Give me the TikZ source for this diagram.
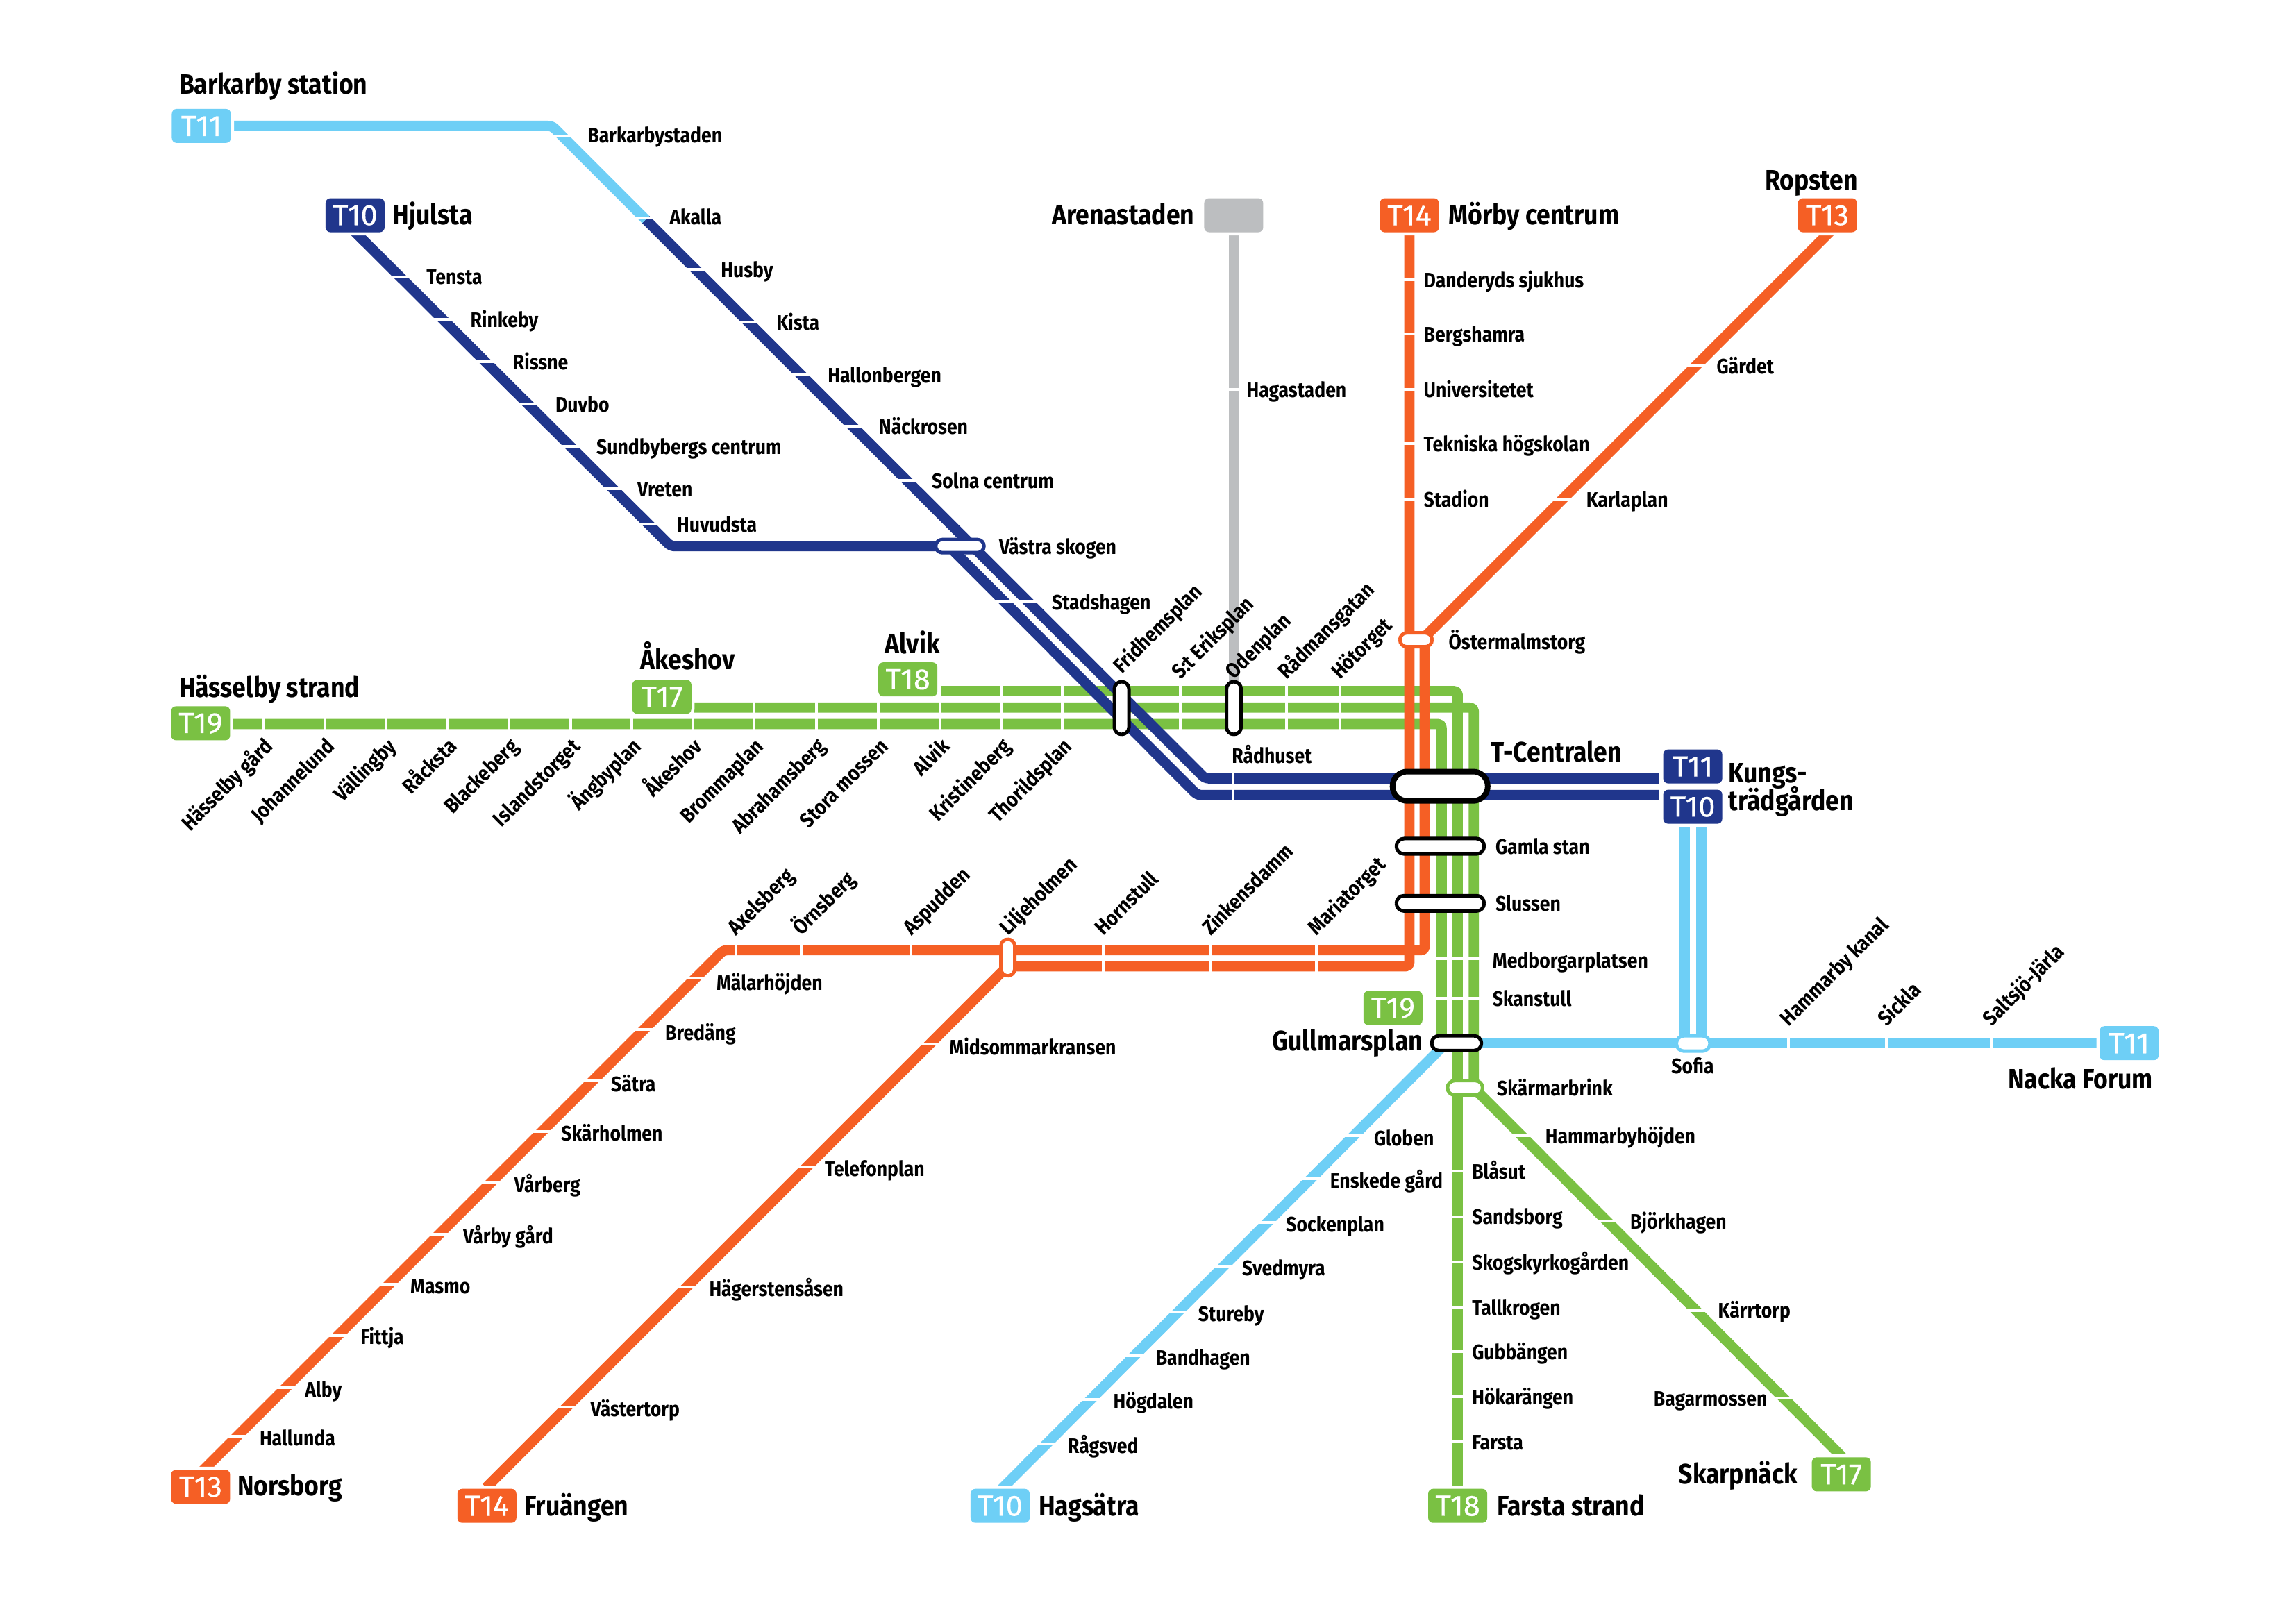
\documentclass[tikz,border=0pt]{standalone}
\usepackage{fontspec}
\setmainfont[FakeStretch=0.88]{Fira Sans}
\definecolor{lb}{RGB}{110,207,246}
\definecolor{db}{RGB}{32,54,140}
\definecolor{og}{RGB}{245,95,37}
\definecolor{gn}{RGB}{122,193,67}
\definecolor{gy}{RGB}{188,190,192}
\tikzset{
 ln/.style={line width=0.148cm,line join=round,rounded corners=1.5pt},
 tck/.style={white,line width=0.04cm},
 stn/.style={anchor=west,inner sep=0pt,yshift=0.008cm,text height=.69em,text depth=0pt,font=\fontsize{8.6}{9}\selectfont\bfseries},
 up/.style={stn,rotate=45},
 dn/.style={stn,rotate=45,anchor=east},
 big/.style={anchor=west,inner sep=0pt,yshift=-0.015cm,text height=.69em,text depth=0pt,font=\fontsize{11.5}{12}\selectfont\bfseries},
 badge/.style={rounded corners=2pt,fill=#1,minimum width=0.85cm,minimum height=0.49cm,inner sep=0pt,text=white,
   font=\fontsize{12}{12}\selectfont\addfontfeature{FakeStretch=1.03,FakeBold=0.4},
   preaction={draw=white,line width=0.09cm}},
}
\newcommand{\pl}[6]{% name, cx, cy, w, h, colour
 \pgfmathsetmacro{\rr}{min(#4,#5)/2}
 \draw[draw=#6,fill=white,line width=0.05cm,rounded corners=\rr*0.211mm]
   ({#2-#4/2},{#3-#5/2}) rectangle ({#2+#4/2},{#3+#5/2});
 \coordinate (#1) at (#2,#3);
}
\begin{document}
\begin{tikzpicture}[x=0.0210906cm,y=-0.0210906cm]
\useasboundingbox (0,0) rectangle (1568,1108.5);
\fill[white] (0,0) rectangle (1568,1108.5);

% grey
\draw[ln,gy] (842.5,147) -- (842.5,480);
\draw[tck] (830,266) -- (855,266);

% green
\draw[ln,gn] (620,472) -- (995.5,472) -- (995.5,1028);
\draw[ln,gn] (452,483.3) -- (1006.5,483.3) -- (1006.5,743) -- (1258,995);
\draw[ln,gn] (137,494.5) -- (984.5,494.5) -- (984.5,712);
\foreach \x in {179.8,222,263.8,305.6,347.6,389.7,431.5,473,515,557.5,600,642,684,725.6,806,878.6,915}
  \draw[tck] (\x,460) -- (\x,505);
\foreach \y in {655,681.7}
  \draw[tck] (975,\y) -- (1015,\y);
\foreach \y in {800,831,862,893,923,954,985}
  \draw[tck] (985,\y) -- (1005,\y);
\foreach \y in {775.5,834,895,955}{
  \pgfmathsetmacro{\xx}{\y+263}
  \draw[tck] (\xx-13,\y) -- (\xx+13,\y);}

% orange
\draw[ln,og] (962.5,147) -- (962.5,660) -- (688,660) -- (332,1016);
\draw[ln,og] (1250,158) -- (973,435) -- (973,649) -- (494,649) -- (137,1006);
\foreach \x in {753.5,826.6,899}
  \draw[tck] (\x,640) -- (\x,670);
\foreach \x in {502.6,547,622.3}
  \draw[tck] (\x,640) -- (\x,658);
\foreach \y in {191,228,266,303,341}
  \draw[tck] (950,\y) -- (975,\y);
\foreach \y in {250,341}{
  \pgfmathsetmacro{\xx}{1408-\y}
  \draw[tck] (\xx-13,\y) -- (\xx+13,\y);}
\foreach \y in {668,703,738,773,808,843,877,912,948,981}{
  \pgfmathsetmacro{\xx}{1143-\y}
  \draw[tck] (\xx-13,\y) -- (\xx+13,\y);}
\foreach \y in {713,797,879,961}{
  \pgfmathsetmacro{\xx}{1348-\y}
  \draw[tck] (\xx-13,\y) -- (\xx+13,\y);}

% dark blue
\draw[ln,db] (242,158) -- (458,373) -- (648,373) -- (817.7,543) -- (1140,543);
\draw[ln,db] (441,150) -- (823,531.7) -- (1140,531.7);
\draw[ln,lb] (150,86) -- (377,86) -- (441,150);
\draw[tck] (842,525) -- (842,550);
\draw[tck] (1134,525) -- (1134,550);
\foreach \y in {189,218,247,276,305,334,358}{
  \pgfmathsetmacro{\xx}{\y+85}
  \draw[tck] (\xx-13,\y) -- (\xx+13,\y);}
\foreach \y in {93,149,184,220,256,291,328}{
  \pgfmathsetmacro{\xx}{\y+291}
  \draw[tck] (\xx-13,\y) -- (\xx+13,\y);}
\draw[tck] (670,411) -- (716,411);

% light blue
\draw[ln,lb] (1150.6,560) -- (1150.6,712);
\draw[ln,lb] (1162,560) -- (1162,712);
\draw[ln,lb] (1000,712.5) -- (1440,712.5);
\draw[ln,lb] (990,710) -- (683,1018);
\foreach \x in {1221.5,1288,1360,1434}
  \draw[tck] (\x,700) -- (\x,725);
\foreach \y in {775.5,805,835,865,896,926,956,986}{
  \pgfmathsetmacro{\xx}{1699-\y}
  \draw[tck] (\xx-13,\y) -- (\xx+13,\y);}

% interchanges
\draw[black,line width=0.08cm,rounded corners=2.1mm,fill=white] (951,527) rectangle (1016,547);
\pl{pga}{983.6}{578}{60}{10.5}{black}
\pl{psl}{983.6}{617}{60}{10.5}{black}
\pl{pgu}{994.7}{712.5}{34}{10}{black}
\pl{pfr}{766}{483.6}{10}{36}{black}
\pl{pod}{842.6}{483.6}{10}{36}{black}
\pl{pvs}{655.5}{373}{33}{9}{db}
\pl{pos}{967}{437}{22}{9.5}{og}
\pl{pli}{688.3}{654}{9.5}{25}{og}
\pl{pso}{1156.3}{712.7}{23}{10.5}{lb}
\pl{psk}{1000.5}{743}{24}{9.8}{gn}

% badges
\node[badge=lb] (bA) at (137.5,86) {T11};
\node[badge=db] (bB) at (242.5,147) {T10};
\node[badge=gy] (bC) at (842.5,147) {};
\node[badge=og] (bD) at (962.5,147) {T14};
\node[badge=og] (bE) at (1248,147) {T13};
\node[badge=gn] (bF) at (137,494) {T19};
\node[badge=gn] (bG) at (452,476) {T17};
\node[badge=gn] (bH) at (620,464) {T18};
\node[badge=db] (bI) at (1156,523.5) {T11};
\node[badge=db] (bJ) at (1156,551) {T10};
\node[badge=gn] (bK) at (951.3,688.5) {T19};
\node[badge=lb] (bL) at (1454,712.5) {T11};
\node[badge=og] (bM) at (137,1015.5) {T13};
\node[badge=og] (bN) at (332.5,1028.5) {T14};
\node[badge=lb] (bO) at (683,1028.5) {T10};
\node[badge=gn] (bP) at (995.5,1028.5) {T18};
\node[badge=gn] (bQ) at (1257.5,1007) {T17};

% terminus labels
\node[big] (t1) at (122,58) {Barkarby station};
\node[big] (t2) at (268,147) {Hjulsta};
\node[big,anchor=east] (t3) at (816,147) {Arenastaden};
\node[big] (t4) at (989,147) {Mörby centrum};
\node[big] (t5) at (1205,123) {Ropsten};
\node[big] (t6) at (122,470) {Hässelby strand};
\node[big] (t7) at (437,451) {Åkeshov};
\node[big] (t8) at (604,440) {Alvik};
\node[big] (t9) at (1018,514) {T-Centralen};
\node[big] (t10) at (1180,528) {Kungs-};
\node[big] (t11) at (1180,547) {trädgården};
\node[big,anchor=east] (t12) at (972,711) {Gullmarsplan};
\node[big] (t13) at (1371,737) {Nacka Forum};
\node[big] (t14) at (162,1015) {Norsborg};
\node[big] (t15) at (358,1029) {Fruängen};
\node[big] (t16) at (709,1029) {Hagsätra};
\node[big] (t17) at (1022,1029) {Farsta strand};
\node[big] (t18) at (1146,1007) {Skarpnäck};

% station labels
\foreach \n/\x/\y/\t in {a1/401/92/Barkarbystaden,a2/457/148/Akalla,a3/492/184/Husby,a4/530/220/Kista,a5/565/256/Hallonbergen,a6/600/291/Näckrosen,a7/636/328/Solna centrum,a8/682/373/Västra skogen,a9/718/411/Stadshagen,
 b1/291/189/Tensta,b2/321/218/Rinkeby,b3/350/247/Rissne,b4/379/276/Duvbo,b5/407/305/Sundbybergs centrum,b6/435/334/Vreten,b7/462/358/Huvudsta,
 c1/851/266/Hagastaden,c2/972/191/Danderyds sjukhus,c3/972/228/Bergshamra,c4/972/266/Universitetet,c5/972/303/Tekniska högskolan,c6/972/341/Stadion,c7/1172/250/Gärdet,c8/1083/341/Karlaplan,c9/989/438/Östermalmstorg,c10/841/516/Rådhuset,
 d1/1021/578/Gamla stan,d2/1021/617/Slussen,d3/1019/656/Medborgarplatsen,d4/1019/682/Skanstull,d5/1022/743/Skärmarbrink,
 e1/489/671/Mälarhöjden,e2/454/705/Bredäng,e3/417/740/Sätra,e4/383/774/Skärholmen,e5/351/809/Vårberg,e6/316/844/Vårby gård,e7/280/878/Masmo,e8/246/913/Fittja,e9/208/949/Alby,e10/177/982/Hallunda,
 f1/648/715/Midsommarkransen,f2/563/798/Telefonplan,f3/484/880/Hägerstensåsen,f4/403/962/Västertorp,
 g1/938/777/Globen,g2/908/806/Enskede gård,g3/878/836/Sockenplan,g4/848/866/Svedmyra,g5/818/897/Stureby,g6/789/927/Bandhagen,g7/760/957/Högdalen,g8/729/987/Rågsved,
 h1/1005/800/Blåsut,h2/1005/831/Sandsborg,h3/1005/862/Skogskyrkogården,h4/1005/893/Tallkrogen,h5/1005/923/Gubbängen,h6/1005/954/Hökarängen,h7/1005/985/Farsta,
 i1/1055/776/Hammarbyhöjden,i2/1113/834/Björkhagen,i3/1173/895/Kärrtorp,i4/1129/955/Bagarmossen}
  \node[stn] (\n) at (\x,\y) {\t};
\node[stn,anchor=center] (sofia) at (1156,728) {Sofia};

% rotated labels below
\foreach \n/\x/\t in {j1/179.8/Hässelby gård,j2/222/Johannelund,j3/263.8/Vällingby,j4/305.6/Råcksta,j5/347.6/Blackeberg,j6/389.7/Islandstorget,j7/431.5/Ängbyplan,j8/473/Åkeshov,j9/515/Brommaplan,j10/557.5/Abrahamsberg,j11/600/Stora mossen,j12/642/Alvik,j13/684/Kristineberg,j14/725.6/Thorildsplan}
  \node[dn] (\n) at (\x+3.5,507) {\t};
% rotated labels above
\foreach \n/\x/\y/\t in {k1/766/457/Fridhemsplan,k2/806/461/S:t Eriksplan,k3/842.6/461/Odenplan,k4/878.6/461/Rådmansgatan,k5/915/461/Hötorget,
 l1/502.6/636/Axelsberg,l2/547/636/Örnsberg,l3/622.3/636/Aspudden,l4/688.3/636/Liljeholmen,l5/753.5/636/Hornstull,l6/826.6/636/Zinkensdamm,l7/899/636/Mariatorget,
 m1/1221.5/698/Hammarby kanal,m2/1288/698/Sickla,m3/1360/698/Saltsjö-Järla}
  \node[up] (\n) at (\x-4,\y) {\t};
\end{tikzpicture}
\end{document}
